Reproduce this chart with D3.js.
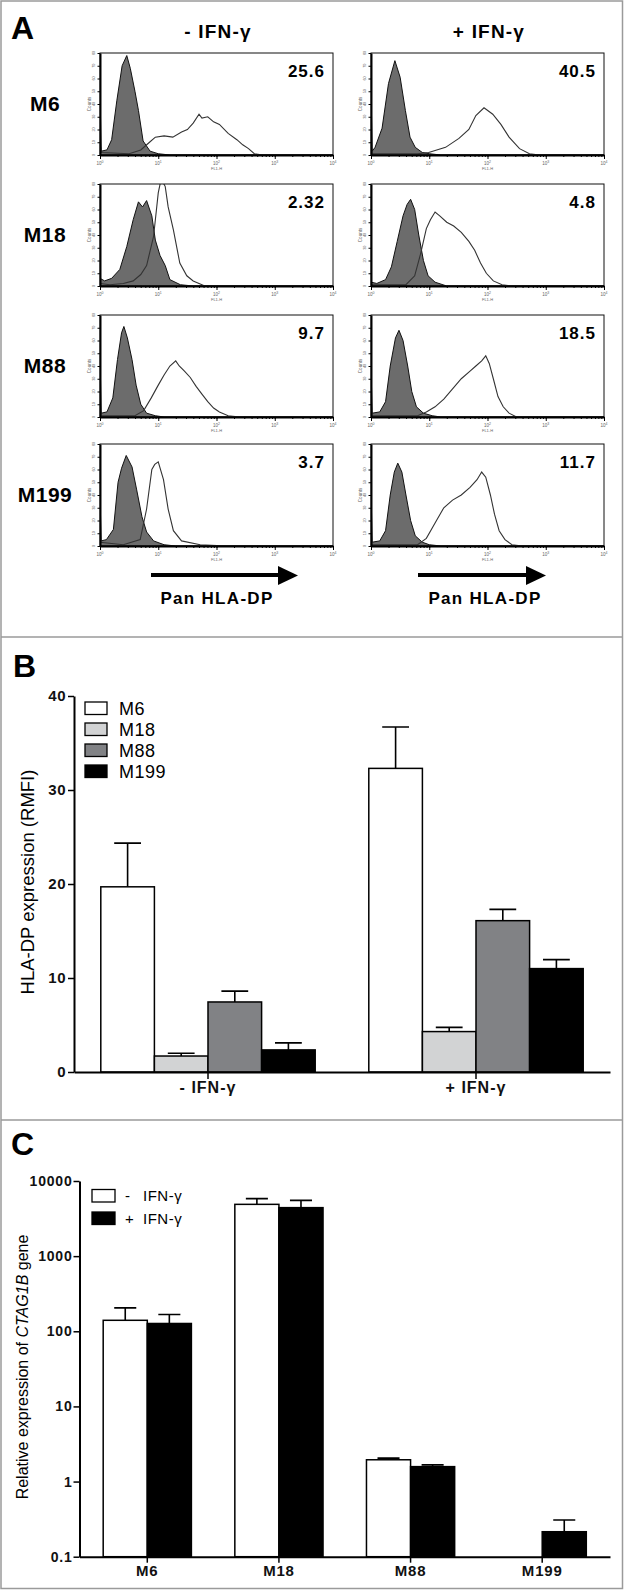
<!DOCTYPE html>
<html>
<head>
<meta charset="utf-8">
<script src="https://cdn.jsdelivr.net/npm/d3@7"></script>
<style>
  body { margin: 0; background: #fff; }
  svg { display: block; font-family: "Liberation Sans", Arial, sans-serif; }
</style>
</head>
<body>
<div class="chart"></div>
<script>
// ---------------- Panel A : flow histograms ----------------
var rowLabels = ["M6", "M18", "M88", "M199"];
var conditions = ["- IFN-γ", "+ IFN-γ"];
var pctMinus = ["25.6", "2.32", "9.7", "3.7"];
var pctPlus = ["40.5", "4.8", "18.5", "11.7"];
var histDecades = [1, 10, 100, 1000, 10000];
var countTicks = [0, 10, 20, 30, 40, 50, 60, 70, 80];

// [log10(FL1-H), counts]
// isotype (filled) and Pan HLA-DP (open) curves, one per row
var isoMinus = [
  [[0,50],[0.02,3],[0.12,4],[0.2,12],[0.29,43],[0.38,70],[0.46,78],[0.52,68],[0.6,50],[0.66,35],[0.74,11],[0.86,3],[1.0,1],[1.2,0],[4,0]],
  [[0,6],[0.08,4],[0.2,6],[0.34,13],[0.46,31],[0.57,52],[0.66,66],[0.73,62],[0.8,67],[0.89,55],[0.95,36],[1.03,24],[1.12,16],[1.2,5],[1.38,1],[1.6,0],[4,0]],
  [[0,50],[0.02,3],[0.12,4],[0.22,15],[0.3,45],[0.37,66],[0.41,71],[0.47,62],[0.55,45],[0.62,25],[0.7,10],[0.8,3],[0.95,1],[1.1,0],[4,0]],
  [[0,40],[0.02,4],[0.11,5],[0.23,13],[0.31,50],[0.37,61],[0.45,71],[0.55,62],[0.63,44],[0.72,23],[0.8,11],[0.92,4],[1.1,1],[1.3,0],[4,0]]
];
var stainMinus = [
  [[0,10],[0.02,2],[0.5,1],[0.7,4],[0.85,10],[0.95,14],[1.1,15],[1.25,14],[1.4,18],[1.5,20],[1.6,25],[1.7,32],[1.75,29],[1.85,30],[1.95,26],[2.05,24],[2.2,17],[2.35,12],[2.45,8],[2.55,5],[2.65,1],[2.8,0],[4,0]],
  [[0,2],[0.17,1],[0.4,2],[0.57,4],[0.7,9],[0.8,16],[0.92,39],[1.0,73],[1.05,84],[1.12,78],[1.17,62],[1.26,44],[1.37,18],[1.49,8],[1.6,4],[1.8,0],[4,0]],
  [[0,8],[0.02,1],[0.6,1],[0.75,5],[0.88,15],[1.0,25],[1.1,33],[1.2,40],[1.3,44],[1.36,40],[1.45,36],[1.55,31],[1.65,24],[1.75,18],[1.85,12],[1.95,7],[2.05,4],[2.2,1],[2.4,0],[4,0]],
  [[0,3],[0.4,1],[0.69,5],[0.8,29],[0.89,60],[0.94,64],[1.0,66],[1.09,52],[1.17,29],[1.26,12],[1.4,4],[1.72,1],[2.2,0],[4,0]]
];
var isoPlus = [
  [[0,53],[0.02,3],[0.07,6],[0.19,21],[0.3,56],[0.41,74],[0.5,61],[0.59,35],[0.67,14],[0.76,6],[0.88,2],[1.0,1],[1.2,0],[4,0]],
  [[0,3],[0.1,2],[0.25,5],[0.35,15],[0.45,35],[0.55,55],[0.62,64],[0.68,68],[0.75,60],[0.82,40],[0.9,20],[0.98,8],[1.1,3],[1.3,0],[4,0]],
  [[0,40],[0.02,3],[0.15,4],[0.25,12],[0.33,40],[0.42,62],[0.48,68],[0.55,60],[0.63,40],[0.7,20],[0.78,8],[0.9,3],[1.05,1],[1.2,0],[4,0]],
  [[0,45],[0.02,3],[0.15,4],[0.25,12],[0.33,40],[0.4,58],[0.46,65],[0.53,58],[0.6,40],[0.68,20],[0.76,8],[0.88,3],[1.0,1],[1.2,0],[4,0]]
];
var stainPlus = [
  [[0,8],[0.02,1],[0.8,1],[0.99,2],[1.28,6],[1.51,13],[1.68,20],[1.8,31],[1.94,37],[2.09,32],[2.23,24],[2.37,14],[2.55,5],[2.72,1],[2.9,0],[4,0]],
  [[0,1],[0.6,1],[0.75,8],[0.85,25],[0.95,45],[1.02,52],[1.1,58],[1.18,55],[1.3,50],[1.42,47],[1.55,42],[1.68,35],[1.78,28],[1.88,18],[1.98,10],[2.1,4],[2.25,1],[2.4,0],[4,0]],
  [[0,5],[0.02,1],[0.8,1],[0.95,4],[1.1,8],[1.25,14],[1.4,22],[1.55,30],[1.7,36],[1.8,40],[1.9,44],[1.97,48],[2.03,42],[2.1,30],[2.18,16],[2.27,8],[2.37,3],[2.5,0],[4,0]],
  [[0,3],[0.02,1],[0.8,1],[0.95,6],[1.1,18],[1.25,30],[1.4,36],[1.55,40],[1.7,46],[1.82,52],[1.9,58],[1.97,54],[2.05,40],[2.12,25],[2.2,12],[2.3,5],[2.42,1],[2.6,0],[4,0]]
];

// ---------------- Panel B : HLA-DP RMFI ----------------
var cellLines = ["M6", "M18", "M88", "M199"];
var treatments = ["- IFN-γ", "+ IFN-γ"];
var rmfiMinus = [19.7, 1.7, 7.45, 2.35];
var rmfiMinusSem = [4.65, 0.3, 1.15, 0.75];
var rmfiPlus = [32.3, 4.3, 16.1, 11.0];
var rmfiPlusSem = [4.4, 0.45, 1.2, 0.95];
var rmfiTicks = [0, 10, 20, 30, 40];
var lineFills = ["#ffffff", "#d2d3d4", "#818285", "#000000"];

// ---------------- Panel C : CTAG1B expression ----------------
var ctagLines = ["M6", "M18", "M88", "M199"];
var ctagSeries = ["- IFN-γ", "+ IFN-γ"];
var ctagMinus = [140, 4890, 1.95, null];
var ctagMinusSem = [65, 930, 0.1, null];
var ctagPlus = [127, 4420, 1.58, 0.215];
var ctagPlusSem = [40, 1110, 0.09, 0.093];
var ctagTicks = [0.1, 1, 10, 100, 1000, 10000];
var ctagFills = ["#ffffff", "#000000"];

var svgWidth = 624;
var svgHeight = 1590;

var svg = d3.select(".chart")
  .append("svg")
  .attr("width", svgWidth)
  .attr("height", svgHeight);

// outer frame and panel dividers
svg.append("rect")
  .attr("x", 1).attr("y", 1)
  .attr("width", 621.5).attr("height", 1587.5)
  .attr("fill", "none").attr("stroke", "#9a9a9a").attr("stroke-width", 1.5);
[637, 1120].forEach(function (y) {
  svg.append("line")
    .attr("x1", 1).attr("x2", 622.5).attr("y1", y).attr("y2", y)
    .attr("stroke", "#9a9a9a").attr("stroke-width", 1.5);
});

function panelLetter(txt, x, y) {
  svg.append("text").attr("x", x).attr("y", y)
    .attr("font-size", 32).attr("font-weight", "bold").text(txt);
}
panelLetter("A", 11, 39);
panelLetter("B", 13, 677);
panelLetter("C", 11, 1155);

// ================= Panel A =================
var boxW = 233, boxH = 102;
var colX = [100, 371];
var rowY = [53, 184, 315, 444];

var histX = d3.scaleLog().domain([1, 10000]).range([0, boxW]);
var histY = d3.scaleLinear().domain([0, 80]).range([boxH, 0]);

svg.append("defs").append("clipPath").attr("id", "histClip")
  .append("rect").attr("width", boxW).attr("height", boxH);

var isoArea = d3.area()
  .x(d => histX(Math.pow(10, d[0])))
  .y0(boxH)
  .y1(d => histY(d[1]));

var stainLine = d3.line()
  .x(d => histX(Math.pow(10, d[0])))
  .y(d => histY(d[1]));

function drawHist(g, iso, stain, pct) {
  var plot = g.append("g").attr("clip-path", "url(#histClip)");
  plot.append("path").datum(iso)
    .attr("d", isoArea)
    .attr("fill", "#6c6c6c")
    .attr("stroke", "#111")
    .attr("stroke-width", 1);
  plot.append("path").datum(stain)
    .attr("d", stainLine)
    .attr("fill", "none")
    .attr("stroke", "#333")
    .attr("stroke-width", 1.1);

  g.append("rect").attr("width", boxW).attr("height", boxH)
    .attr("fill", "none").attr("stroke", "#111").attr("stroke-width", 1);

  // minor + major ticks on the FL1-H axis
  g.append("g").attr("transform", `translate(0,${boxH})`)
    .call(d3.axisBottom(histX).tickValues(histX.ticks()).tickSize(2).tickFormat("").tickSizeOuter(0))
    .call(a => a.select(".domain").attr("stroke-width", 2));
  g.append("g").attr("transform", `translate(0,${boxH})`)
    .call(d3.axisBottom(histX).tickValues(histDecades).tickSize(4).tickFormat("").tickSizeOuter(0))
    .call(a => a.select(".domain").remove());

  histDecades.forEach(function (d, i) {
    var t = g.append("text")
      .attr("x", histX(d)).attr("y", boxH + 10)
      .attr("text-anchor", "middle")
      .attr("font-size", 4.5).attr("fill", "#666")
      .text("10");
    t.append("tspan").attr("dy", -2).attr("font-size", 3.5).text(i);
  });
  g.append("text")
    .attr("x", histX(100)).attr("y", boxH + 15)
    .attr("text-anchor", "middle").attr("font-size", 4).attr("fill", "#666")
    .text("FL1-H");

  // counts axis
  g.append("g")
    .call(d3.axisLeft(histY).tickValues(countTicks).tickSize(2.5).tickFormat("").tickSizeOuter(0))
    .call(a => a.select(".domain").attr("stroke-width", 2));
  countTicks.forEach(function (c) {
    g.append("text")
      .attr("transform", `translate(-5,${histY(c)}) rotate(-90)`)
      .attr("text-anchor", "middle").attr("font-size", 3.8).attr("fill", "#666")
      .text(c);
  });
  g.append("text")
    .attr("transform", `translate(-9,${boxH / 2}) rotate(-90)`)
    .attr("text-anchor", "middle").attr("font-size", 4.5).attr("fill", "#666")
    .text("Counts");

  g.append("text")
    .attr("x", boxW - 8).attr("y", 24)
    .attr("text-anchor", "end")
    .attr("font-size", 17).attr("font-weight", "bold")
    .attr("letter-spacing", 1)
    .text(pct);
}

var histPanel = svg.append("g");

conditions.forEach(function (cond, ci) {
  histPanel.append("text")
    .attr("x", colX[ci] + 118).attr("y", 38)
    .attr("text-anchor", "middle")
    .attr("font-size", 19).attr("font-weight", "bold")
    .attr("letter-spacing", 1.2)
    .text(cond);
});

rowLabels.forEach(function (lab, ri) {
  histPanel.append("text")
    .attr("x", 45).attr("y", rowY[ri] + 58)
    .attr("text-anchor", "middle")
    .attr("font-size", 21).attr("font-weight", "bold")
    .attr("letter-spacing", 0.5)
    .text(lab);

  drawHist(histPanel.append("g").attr("transform", `translate(${colX[0]},${rowY[ri]})`),
    isoMinus[ri], stainMinus[ri], pctMinus[ri]);
  drawHist(histPanel.append("g").attr("transform", `translate(${colX[1]},${rowY[ri]})`),
    isoPlus[ri], stainPlus[ri], pctPlus[ri]);
});

// arrows + axis caption
[[151, 298, 217], [418, 546, 485]].forEach(function (a) {
  histPanel.append("line")
    .attr("x1", a[0]).attr("x2", a[1] - 18)
    .attr("y1", 575).attr("y2", 575)
    .attr("stroke", "#000").attr("stroke-width", 4);
  histPanel.append("path")
    .attr("d", `M${a[1] - 20},566 L${a[1]},575.5 L${a[1] - 20},585 Z`)
    .attr("fill", "#000");
  histPanel.append("text")
    .attr("x", a[2]).attr("y", 604)
    .attr("text-anchor", "middle")
    .attr("font-size", 17).attr("font-weight", "bold")
    .attr("letter-spacing", 1.3)
    .text("Pan HLA-DP");
});

// ================= Panel B =================
var bTop = 696, bBottom = 1072, bLeft = 74, bRight = 610;

var yB = d3.scaleLinear().domain([0, 40]).range([bBottom, bTop]);
var xB = d3.scaleBand().domain(treatments).range([bLeft, bRight])
  .paddingInner(0.2).paddingOuter(0.1);
var xBInner = d3.scaleBand().domain(cellLines).range([0, xB.bandwidth()]);

var bData = [];
treatments.forEach(function (t, ti) {
  cellLines.forEach(function (c, li) {
    bData.push({
      treat: t, line: c, idx: li,
      value: ti ? rmfiPlus[li] : rmfiMinus[li],
      sem: ti ? rmfiPlusSem[li] : rmfiMinusSem[li]
    });
  });
});

var bChart = svg.append("g");
var bw = xBInner.bandwidth();

bChart.selectAll(".errB")
  .data(bData)
  .enter()
  .append("path")
  .attr("d", function (d) {
    var cx = xB(d.treat) + xBInner(d.line) + bw / 2;
    var top = yB(d.value + d.sem);
    return `M${cx},${yB(d.value)} V${top} M${cx - bw / 4},${top} H${cx + bw / 4}`;
  })
  .attr("fill", "none").attr("stroke", "#000").attr("stroke-width", 1.6);

bChart.selectAll(".barB")
  .data(bData)
  .enter()
  .append("rect")
  .attr("x", d => xB(d.treat) + xBInner(d.line))
  .attr("y", d => yB(d.value))
  .attr("width", bw)
  .attr("height", d => yB(0) - yB(d.value))
  .attr("fill", d => lineFills[d.idx])
  .attr("stroke", "#000").attr("stroke-width", 1.5);

bChart.append("g")
  .attr("transform", `translate(${bLeft},0)`)
  .call(d3.axisLeft(yB).tickValues(rmfiTicks).tickSize(6).tickPadding(2).tickSizeOuter(0))
  .call(a => a.select(".domain").attr("stroke-width", 2))
  .call(a => a.selectAll(".tick line").attr("stroke-width", 1.5))
  .call(a => a.selectAll("text").attr("font-size", 15).attr("font-weight", "bold")
    .attr("font-family", "Liberation Sans, Arial, sans-serif").attr("fill", "#111").attr("letter-spacing", 0.5));

bChart.append("g")
  .attr("transform", `translate(0,${bBottom})`)
  .call(d3.axisBottom(xB).tickSize(7).tickSizeOuter(0))
  .call(a => a.select(".domain").attr("stroke-width", 2))
  .call(a => a.selectAll(".tick line").attr("stroke-width", 1.5))
  .call(a => a.selectAll("text").attr("font-size", 16).attr("font-weight", "bold")
    .attr("font-family", "Liberation Sans, Arial, sans-serif").attr("fill", "#111").attr("letter-spacing", 1));

bChart.append("text")
  .attr("transform", `translate(34,882) rotate(-90)`)
  .attr("text-anchor", "middle")
  .attr("font-size", 18.5)
  .text("HLA-DP expression (RMFI)");

var bLegend = bChart.selectAll(".legB")
  .data(cellLines)
  .enter()
  .append("g")
  .attr("transform", (d, i) => `translate(85,${702 + i * 21})`);
bLegend.append("rect")
  .attr("width", 22).attr("height", 12.5)
  .attr("fill", (d, i) => lineFills[i])
  .attr("stroke", "#000").attr("stroke-width", 1.3);
bLegend.append("text")
  .attr("x", 34).attr("y", 12.5)
  .attr("font-size", 18).attr("letter-spacing", 0.5)
  .text(d => d);

// ================= Panel C =================
var cTop = 1181, cBottom = 1556.7, cLeft = 79.5, cRight = 610;

var yC = d3.scaleLog().domain([0.1, 10000]).range([cBottom, cTop]);
var xC = d3.scaleBand().domain(ctagLines).range([cLeft, cRight])
  .paddingInner(0.33).paddingOuter(0.18);
var xCInner = d3.scaleBand().domain(ctagSeries).range([0, xC.bandwidth()]);
var cw = xCInner.bandwidth();

var cData = [];
ctagSeries.forEach(function (s, si) {
  ctagLines.forEach(function (c, li) {
    var v = si ? ctagPlus[li] : ctagMinus[li];
    if (v === null) return;
    cData.push({
      series: s, line: c, sIdx: si, value: v,
      sem: si ? ctagPlusSem[li] : ctagMinusSem[li]
    });
  });
});

var cChart = svg.append("g");

cChart.selectAll(".errC")
  .data(cData)
  .enter()
  .append("path")
  .attr("d", function (d) {
    var cx = xC(d.line) + xCInner(d.series) + cw / 2;
    var top = yC(d.value + d.sem);
    return `M${cx},${yC(d.value)} V${top} M${cx - cw / 4},${top} H${cx + cw / 4}`;
  })
  .attr("fill", "none").attr("stroke", "#000").attr("stroke-width", 1.6);

cChart.selectAll(".barC")
  .data(cData)
  .enter()
  .append("rect")
  .attr("x", d => xC(d.line) + xCInner(d.series))
  .attr("y", d => yC(d.value))
  .attr("width", cw)
  .attr("height", d => yC(0.1) - yC(d.value))
  .attr("fill", d => ctagFills[d.sIdx])
  .attr("stroke", "#000").attr("stroke-width", 1.5);

cChart.append("g")
  .attr("transform", `translate(${cLeft},0)`)
  .call(d3.axisLeft(yC).tickValues(ctagTicks).tickFormat(d3.format("~g")).tickSize(6).tickPadding(1).tickSizeOuter(0))
  .call(a => a.select(".domain").attr("stroke-width", 2))
  .call(a => a.selectAll(".tick line").attr("stroke-width", 1.5))
  .call(a => a.selectAll("text").attr("font-size", 14).attr("font-weight", "bold")
    .attr("font-family", "Liberation Sans, Arial, sans-serif").attr("fill", "#111").attr("letter-spacing", 0.8));

cChart.append("g")
  .attr("transform", `translate(0,${cBottom})`)
  .call(d3.axisBottom(xC).tickSize(6).tickSizeOuter(0))
  .call(a => a.select(".domain").attr("stroke-width", 2))
  .call(a => a.selectAll(".tick line").attr("stroke-width", 1.5))
  .call(a => a.selectAll("text").attr("font-size", 15).attr("font-weight", "bold")
    .attr("font-family", "Liberation Sans, Arial, sans-serif").attr("fill", "#111").attr("letter-spacing", 0.8));

var cLabel = cChart.append("text")
  .attr("transform", `translate(28,1367) rotate(-90)`)
  .attr("text-anchor", "middle")
  .attr("font-size", 16);
cLabel.append("tspan").text("Relative expression of ");
cLabel.append("tspan").attr("font-style", "italic").text("CTAG1B");
cLabel.append("tspan").text(" gene");

var cLegend = cChart.selectAll(".legC")
  .data(ctagSeries)
  .enter()
  .append("g")
  .attr("transform", (d, i) => `translate(92,${1189.5 + i * 22.5})`);
cLegend.append("rect")
  .attr("width", 23).attr("height", 12.5)
  .attr("fill", (d, i) => ctagFills[i])
  .attr("stroke", "#000").attr("stroke-width", 1.3);
cLegend.append("text")
  .attr("x", 33).attr("y", 11.5)
  .attr("font-size", 15)
  .text(d => d.split(" ")[0]);
cLegend.append("text")
  .attr("x", 51).attr("y", 11.5)
  .attr("font-size", 15).attr("letter-spacing", 0.5)
  .text(d => d.split(" ").slice(1).join(" "));
</script>
</body>
</html>
